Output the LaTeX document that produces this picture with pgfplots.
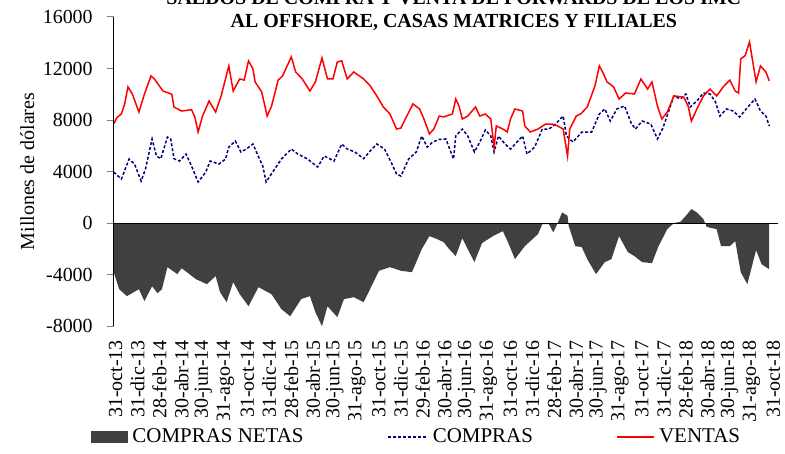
\documentclass[border=0pt]{standalone}
\usepackage{fontspec}
\setmainfont{Liberation Serif}
\usepackage{pgfplots}
\pgfplotsset{compat=1.18}
\definecolor{netGray}{HTML}{404040}
\definecolor{comprasBlue}{HTML}{000080}
\definecolor{ventasRed}{HTML}{FF0000}

\begin{document}
\begin{tikzpicture}
\begin{axis}[
    width=333pt, height=155pt, scale only axis,
    xmin=0, xmax=60.6, ymin=-8000, ymax=16000,
    ytick={-8000,-4000,...,16000},
    xtick={0,2,...,60},
    xticklabels={31-oct-13,31-dic-13,28-feb-14,30-abr-14,30-jun-14,31-ago-14,
      31-oct-14,31-dic-14,28-feb-15,30-abr-15,30-jun-15,31-ago-15,
      31-oct-15,31-dic-15,29-feb-16,30-abr-16,30-jun-16,31-ago-16,
      31-oct-16,31-dic-16,28-feb-17,30-abr-17,30-jun-17,31-ago-17,
      31-oct-17,31-dic-17,28-feb-18,30-abr-18,30-jun-18,31-ago-18,31-oct-18},
    xticklabel style={rotate=90, anchor=east, yshift=-1pt, font=\fontsize{10}{12}\selectfont},
    yticklabel style={xshift=-3.5pt, font=\fontsize{10}{12}\selectfont},
    axis y line=left, axis x line=bottom,
    y axis line style={-, line width=0.5pt},
    x axis line style={draw=none},
    xtick style={draw=none},
    ytick style={line width=0.5pt},
    tick align=outside, major tick length=3.5pt,
    scaled y ticks=false,
    /pgf/number format/1000 sep={},
    /pgf/number format/assume math mode=true,
    extra y ticks={0}, extra y tick labels={},
    extra y tick style={grid=major, major grid style={black, line width=0.6pt}, tick style={draw=none}},
    axis on top,
    ylabel={Millones de dólares},
    ylabel style={at={(axis description cs:-0.13,0.5)}, anchor=center, font=\fontsize{10}{12}\selectfont},
    legend style={at={(axis description cs:0.457,-0.358)}, anchor=center, draw=none,
      font=\fontsize{10.5}{12}\selectfont,
      /tikz/every even column/.append style={column sep=40pt}},
    legend columns=3,
  ]
  % compras netas
  \addplot[fill=netGray, draw=none,
    legend image code/.code={\fill[netGray] (0pt,-3pt) rectangle (19pt,3pt);}]
    coordinates {
    (0,-3810) (0.5,-5130) (1.2,-5670) (2.3,-5130) (2.8,-6060) (3.5,-4900)
    (4.0,-5440) (4.4,-5130) (4.9,-3420) (5.8,-3960) (6.2,-3500) (7.5,-4350)
    (8.5,-4740) (9.3,-4110) (9.7,-5360) (10.3,-6140) (10.9,-4580) (11.5,-5520)
    (12.3,-6450) (13.2,-4970) (14.4,-5520) (15.3,-6680) (16.1,-7230) (17.1,-5900)
    (17.9,-5670) (18.4,-6920) (19.0,-8000) (19.5,-6450) (20.4,-7300) (21.0,-5900)
    (21.9,-5750) (22.8,-6140) (23.7,-4580) (24.2,-3700) (25.2,-3420) (26.2,-3700)
    (27.2,-3810) (27.6,-3030) (28.1,-2020) (28.8,-1010) (29.5,-1240) (30.1,-1480)
    (30.6,-2020) (31.2,-2560) (31.8,-1170) (32.3,-2020) (32.9,-3030) (33.6,-1550)
    (34.6,-1010) (35.5,-620) (36.0,-1550) (36.6,-2800) (37.5,-1790) (38.7,-860)
    (39.1,-80) (39.7,-80) (40.1,-720) (40.5,0) (40.9,830) (41.4,570)
    (41.5,-200) (42.1,-1790) (42.7,-1860) (43.2,-2800) (44.0,-3960) (44.8,-3030)
    (45.4,-2800) (46.1,-1010) (46.9,-2250) (47.5,-2560) (48.2,-3030) (49.1,-3110)
    (49.7,-1790) (50.5,-470) (51.1,0) (51.7,100) (52.2,570) (52.7,1090)
    (53.2,830) (53.8,300) (54.1,-300) (55.0,-470) (55.4,-1790) (56.2,-1790)
    (56.7,-1400) (57.2,-3810) (57.8,-4740) (58.6,-2100) (59.1,-3190) (59.8,-3580)
    } \closedcycle;
  \addlegendentry{COMPRAS NETAS}
  % compras
  \addplot[comprasBlue, line width=0.75pt, dash pattern=on 1.5pt off 1pt,
    legend image code/.code={\draw[comprasBlue, line width=0.75pt, dash pattern=on 1.5pt off 1pt] (0pt,0pt) -- (20pt,0pt);}]
    coordinates {
    (0,3960) (0.7,3420) (1.4,4970) (1.9,4580) (2.5,3260) (2.9,4200)
    (3.5,6530) (3.9,5210) (4.3,5000) (4.9,6680) (5.2,6530) (5.5,5000)
    (6.0,4820) (6.6,5360) (7.1,4430) (7.7,3190) (8.4,3960) (8.8,4820)
    (9.6,4580) (10.2,4970) (10.5,5900) (11.1,6370) (11.6,5520) (12.1,5750)
    (12.7,6140) (13.1,5360) (13.6,4430) (13.9,3190) (14.5,3960) (15.3,4970)
    (16.2,5750) (16.8,5360) (17.7,4970) (18.6,4350) (19.2,5210) (20.1,4820)
    (20.8,6140) (21.3,5750) (22.0,5520) (22.8,5000) (23.4,5600) (24.0,6140)
    (24.7,5750) (25.3,4740) (25.8,3810) (26.2,3650) (26.9,4970) (27.6,5520)
    (28.1,6760) (28.6,5900) (29.1,6290) (29.7,6500) (30.3,6530) (31.0,4970)
    (31.2,6760) (31.8,7300) (32.3,6760) (32.9,5520) (33.4,6290) (33.9,7230)
    (34.4,6760) (34.7,5520) (35.1,6760) (35.7,6140) (36.2,5750) (37.3,6760)
    (37.7,5360) (38.4,5900) (39.1,7300) (39.7,7300) (40.3,7690) (41.0,8310)
    (41.3,6760) (41.9,6290) (42.7,7070) (43.6,7070) (44.3,8470) (44.8,8860)
    (45.3,7920) (45.9,8860) (46.6,9090) (47.2,7770) (47.6,7300) (48.2,7920)
    (49.0,7690) (49.6,6530) (50.1,7380) (50.6,8620) (51.1,9870) (51.7,9630)
    (52.2,10020) (52.6,9010) (53.2,9480) (53.8,10100) (54.4,10020) (54.9,9400)
    (55.3,8310) (55.9,8860) (56.5,8700) (57.1,8240) (57.7,8860) (58.1,9250)
    (58.5,9630) (59.0,8700) (59.5,8310) (59.8,7540)
    };
  \addlegendentry{COMPRAS}
  % ventas
  \addplot[ventasRed, line width=0.75pt,
    legend image code/.code={\draw[ventasRed, line width=0.75pt] (0pt,0pt) -- (18.5pt,0pt);}]
    coordinates {
    (0,7700) (0.3,8200) (0.7,8470) (1.0,9250) (1.3,10570) (1.7,10020)
    (2.3,8620) (2.8,10000) (3.4,11420) (3.7,11200) (4.5,10250) (5.3,10000)
    (5.5,9000) (6.2,8700) (7.1,8800) (7.4,8240) (7.7,7070) (8.1,8300)
    (8.7,9480) (9.3,8620) (9.8,9870) (10.5,12200) (10.9,10250) (11.5,11190)
    (11.9,11100) (12.3,12590) (12.7,11970) (12.9,10960) (13.5,10180) (14.0,8310)
    (14.4,9090) (15.0,11100) (15.4,11420) (16.2,12900) (16.6,11730) (17.2,11190)
    (17.9,10250) (18.4,10960) (19.0,12820) (19.5,11190) (20.0,11190) (20.4,12510)
    (20.8,12590) (21.3,11190) (21.9,11730) (22.8,11190) (23.4,10650) (24.0,9870)
    (24.6,9010) (25.2,8470) (25.8,7300) (26.2,7380) (26.7,8240) (27.3,9250)
    (27.9,8860) (28.3,8080) (28.8,6920) (29.2,7300) (29.7,8310) (30.1,8240)
    (30.9,8470) (31.2,9630) (31.5,9090) (31.8,8080) (32.3,8310) (33.0,9010)
    (33.4,8310) (33.9,8470) (34.4,8080) (34.7,5900) (34.9,7540) (35.5,7300)
    (35.9,7070) (36.2,8080) (36.6,8860) (37.3,8700) (37.5,7540) (38.0,7070)
    (38.7,7300) (39.4,7690) (40.0,7690) (40.5,7540) (41.0,7300) (41.4,5200)
    (41.6,7300) (42.2,8310) (42.6,8470) (43.2,9010) (43.9,10650) (44.3,12200)
    (44.6,11730) (45.0,10960) (45.6,10570) (46.1,9630) (46.7,10100) (47.5,10020)
    (48.1,11190) (48.7,10400) (49.1,10960) (49.6,9090) (50.0,8080) (50.5,8620)
    (51.1,9870) (52.0,9780) (52.4,9090) (52.7,7920) (53.2,8860) (53.8,9870)
    (54.4,10400) (55.0,9870) (55.6,10570) (56.2,11100) (56.7,10250) (57.0,10100)
    (57.2,12740) (57.6,13000) (58.0,14060) (58.3,12510) (58.6,10960) (59.0,12200)
    (59.5,11730) (59.8,11040)
    };
  \addlegendentry{VENTAS}
\end{axis}
\node[anchor=base, font=\bfseries\fontsize{10}{12}\selectfont] at (170.5pt,161pt)
  {SALDOS DE COMPRA Y VENTA DE FORWARDS DE LOS IMC};
\node[anchor=base, font=\bfseries\fontsize{10}{12}\selectfont] at (170.5pt,149.5pt)
  {AL OFFSHORE, CASAS MATRICES Y FILIALES};
\pgfresetboundingbox
\useasboundingbox (-57pt,-64pt) rectangle (336.5pt,163.5pt);
\end{tikzpicture}
\end{document}
